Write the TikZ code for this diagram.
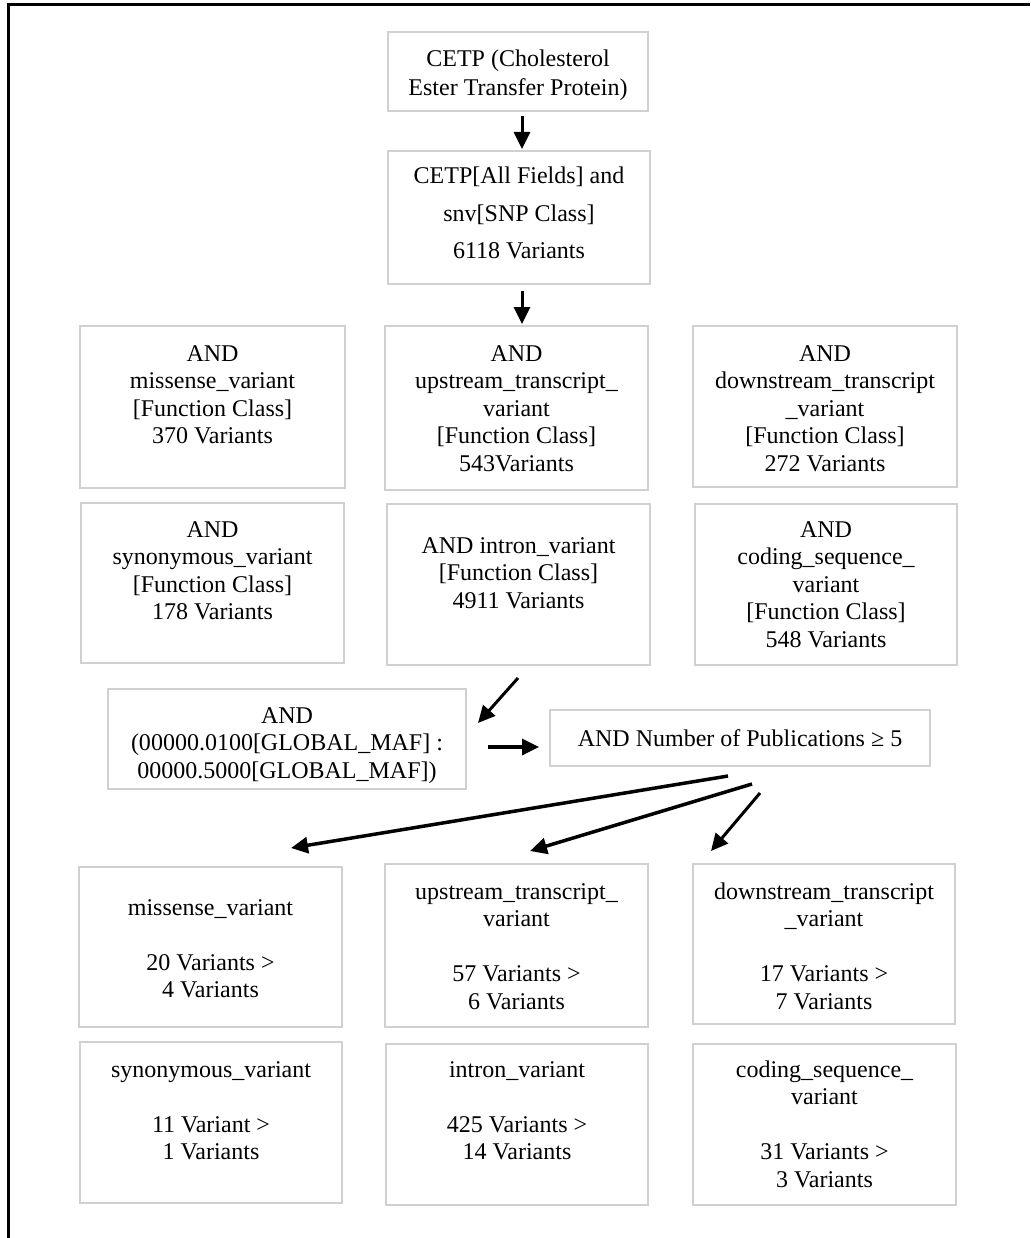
\documentclass[tikz,border=0pt]{standalone}
\usepackage{fontspec}
\setmainfont{Liberation Serif}
\usetikzlibrary{arrows.meta,fit}
\definecolor{boxgray}{HTML}{D0D0D0}
% invisible strut that fixes the height of the first text line
\newcommand{\firstline}{\rule{0pt}{19pt}}
\begin{document}
\begin{tikzpicture}[x=1pt,y=-1pt,
  box/.style={draw=boxgray, line width=2pt, inner sep=0pt, outer sep=0pt, rectangle},
  txt/.style={anchor=north, align=center, inner sep=0pt, outer sep=0pt,
              font=\fontsize{24}{27.5}\selectfont},
  arr/.style={line width=3pt, -{Triangle[length=17pt,width=16pt]}}]

\useasboundingbox (0,0) rectangle (1030,1238);

% page frame (top and left edges)
\draw[line width=2.7pt] (1030,4.5) -- (8.7,4.5) -- (8.7,1238);

% ---------- boxes ----------
\node[box, fit={(388,32)(648,111)}]    (top1) {};
\node[box, fit={(388,151)(650,284)}]   (top2) {};
\node[box, fit={(80,326)(345,488)}]    (a1) {};
\node[box, fit={(385,326)(648,490)}]   (a2) {};
\node[box, fit={(693,326)(957,487)}]   (a3) {};
\node[box, fit={(81,503)(344,663)}]    (b1) {};
\node[box, fit={(387,504)(650,665)}]   (b2) {};
\node[box, fit={(695,504)(957,665)}]   (b3) {};
\node[box, fit={(108,689)(466,789)}]   (maf) {};
\node[box, fit={(550,710)(930,766)}]   (pub) {};
\node[box, fit={(79,867)(342,1027)}]   (c1) {};
\node[box, fit={(385,864)(648,1027)}]  (c2) {};
\node[box, fit={(693,864)(955,1024)}]  (c3) {};
\node[box, fit={(80,1042)(342,1203)}]  (d1) {};
\node[box, fit={(386,1044)(648,1205)}] (d2) {};
\node[box, fit={(693,1044)(956,1205)}] (d3) {};

% ---------- texts ----------
\node[txt, font=\fontsize{24}{29}\selectfont] (ttop1) at (518,48)
  {\firstline CETP (Cholesterol\\Ester Transfer Protein)};
\node[txt, font=\fontsize{24}{37.5}\selectfont] (ttop2) at (519,165)
  {\firstline CETP{[}All Fields] and\\snv{[}SNP Class]\\6118 Variants};

\node[txt] (ta1) at (212.5,342)
  {\firstline AND\\missense\_variant\\{[}Function Class]\\370 Variants};
\node[txt] (ta2) at (516.5,342)
  {\firstline AND\\upstream\_transcript\_\\variant\\{[}Function Class]\\543Variants};
\node[txt] (ta3) at (825,342)
  {\firstline AND\\downstream\_transcript\\\_variant\\{[}Function Class]\\272 Variants};

\node[txt] (tb1) at (212.5,518)
  {\firstline AND\\synonymous\_variant\\{[}Function Class]\\178 Variants};
\node[txt] (tb2) at (518.5,534)
  {\firstline AND intron\_variant\\{[}Function Class]\\4911 Variants};
\node[txt] (tb3) at (826,518)
  {\firstline AND\\coding\_sequence\_\\variant\\{[}Function Class]\\548 Variants};

\node[txt] (tmaf) at (287,704)
  {\firstline AND\\(00000.0100{[}GLOBAL\_MAF] :\\00000.5000{[}GLOBAL\_MAF])};
\node[txt] (tpub) at (740,727)
  {\firstline AND Number of Publications ≥ 5};

\node[txt] (tc1) at (210.5,896)
  {\firstline missense\_variant\\[27.5pt]20 Variants >\\4 Variants};
\node[txt] (tc2) at (516.5,880)
  {\firstline upstream\_transcript\_\\variant\\[27.5pt]57 Variants >\\6 Variants};
\node[txt] (tc3) at (824,880)
  {\firstline downstream\_transcript\\\_variant\\[27.5pt]17 Variants >\\7 Variants};

\node[txt] (td1) at (211,1058)
  {\firstline synonymous\_variant\\[27.5pt]11 Variant >\\1 Variants};
\node[txt] (td2) at (517,1058)
  {\firstline intron\_variant\\[27.5pt]425 Variants >\\14 Variants};
\node[txt] (td3) at (824.5,1058)
  {\firstline coding\_sequence\_\\variant\\[27.5pt]31 Variants >\\3 Variants};

% ---------- arrow end points ----------
\coordinate (p1s) at (522,116);  \coordinate (p1e) at (522,149);
\coordinate (p2s) at (522,291);  \coordinate (p2e) at (522,324);
\coordinate (p3s) at (518,678);  \coordinate (p3e) at (478,723);
\coordinate (p4s) at (488,747);  \coordinate (p4e) at (539,747);
\coordinate (p5s) at (728,776);  \coordinate (p5e) at (291,848);
\coordinate (p6s) at (752,784);  \coordinate (p6e) at (530,851);
\coordinate (p7s) at (760,793);  \coordinate (p7e) at (711,851);

% ---------- arrows ----------
\draw[arr] (p1s) -- (p1e);
\draw[arr] (p2s) -- (p2e);
\draw[arr] (p3s) -- (p3e);
\draw[arr, line width=3.4pt] (p4s) -- (p4e);
\draw[arr, line width=3.5pt] (p5s) -- (p5e);
\draw[arr, line width=3.5pt] (p6s) -- (p6e);
\draw[arr] (p7s) -- (p7e);
\end{tikzpicture}
\end{document}
